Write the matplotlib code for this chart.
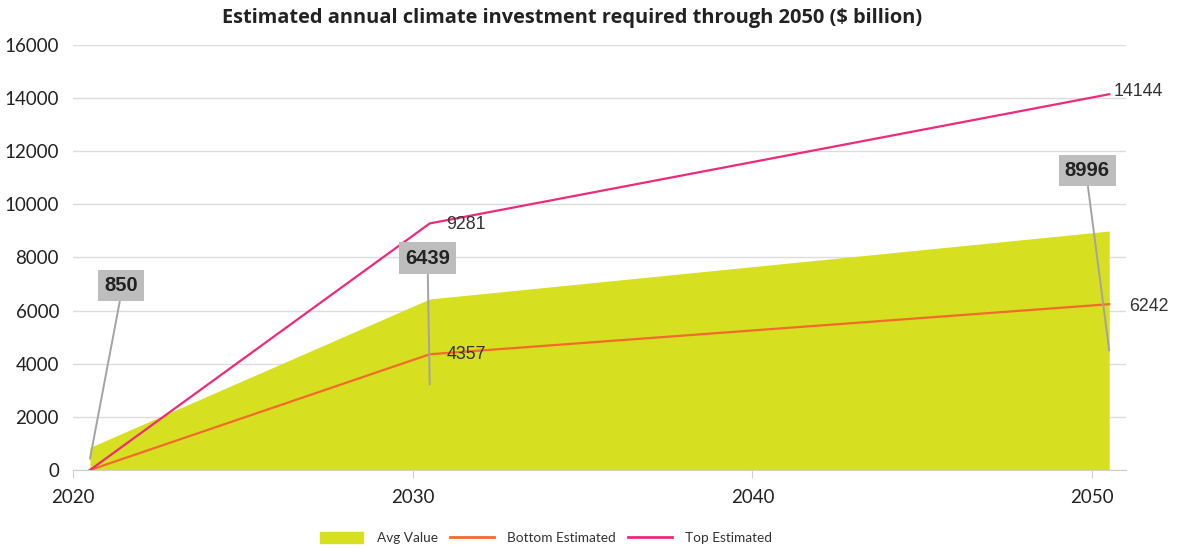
import matplotlib.pyplot as plt
from matplotlib.patches import Patch
from matplotlib.lines import Line2D

# investment estimates, $ billion per year
years = [2020, 2030, 2050]
avg_value = [850, 6439, 8996]
bottom_est = [0, 4357, 6242]
top_est = [0, 9281, 14144]

# values are plotted at mid-year
x = [y + 0.5 for y in years]

fill_col = '#D7DF21'
bottom_col = '#F26B2B'
top_col = '#EE2A7B'

fig = plt.figure(figsize=(11.83, 5.48), dpi=100)
ax = fig.add_axes([0.0617, 0.1423, 0.8903, 0.7757])

ax.fill_between(x, 0, avg_value, color=fill_col, lw=0, zorder=2)
ax.plot(x, bottom_est, color=bottom_col, lw=1.6, zorder=3)
ax.plot(x, top_est, color=top_col, lw=1.6, zorder=3)

ax.set_xlim(2020, 2051)
ax.set_ylim(0, 16000)
ax.set_xticks([2020, 2030, 2040, 2050])
ax.set_yticks(range(0, 16001, 2000))
ax.yaxis.grid(True, color='#dcdcdc', lw=1, zorder=0)
ax.set_axisbelow(True)
for s in ['left', 'right', 'top']:
    ax.spines[s].set_visible(False)
ax.spines['bottom'].set_color('#cfcfcf')
ax.tick_params(axis='y', length=0, pad=10, labelsize=13.5, labelcolor='#222222')
ax.tick_params(axis='x', length=6, color='#cfcfcf', pad=8, labelsize=13.5,
               labelcolor='#222222')
for lab in ax.get_xticklabels() + ax.get_yticklabels():
    lab.set_family('Lato')

# boxed labels for the average with leader lines into the area
box_pos = [(2021.41, 6930), (2030.44, 7980), (2049.85, 11260)]
for xi, v, (bx, by) in zip(x, avg_value, box_pos):
    ax.annotate(f'{v}', xy=(xi, v / 2), xytext=(bx, by),
                ha='center', va='center', fontsize=14.5, fontweight='bold',
                family='Liberation Sans', color='#222222', zorder=6,
                bbox=dict(boxstyle='square,pad=0.3', fc='#BDBDBD', ec='none'),
                arrowprops=dict(arrowstyle='-', color='#a3a3a3', lw=1.4,
                                shrinkA=0, shrinkB=0, relpos=(0.5, 0)))

# end-point labels for the estimate lines
offsets = {('b', 1): (12, 0), ('b', 2): (14, -2),
           ('t', 1): (12, -1), ('t', 2): (3, 2)}
for key, vals in (('b', bottom_est), ('t', top_est)):
    for i in (1, 2):
        ax.annotate(f'{vals[i]}', xy=(x[i], vals[i]), xytext=offsets[(key, i)],
                    textcoords='offset points', ha='left', va='center',
                    fontsize=12.8, family='Liberation Sans', color='#333333',
                    zorder=6)

fig.text(0.4835, 0.967, 'Estimated annual climate investment required through 2050 ($ billion)',
         ha='center', va='center', fontsize=14.4, fontweight='bold',
         family='Open Sans', color='#222222')

handles = [Patch(color=fill_col),
           Line2D([], [], color=bottom_col, lw=2),
           Line2D([], [], color=top_col, lw=2)]
leg = fig.legend(handles, ['Avg Value', 'Bottom Estimated', 'Top Estimated'],
                 loc='center', bbox_to_anchor=(0.4615, 0.018), ncol=3,
                 frameon=False, handlelength=3.2, handleheight=0.9,
                 columnspacing=0.9, handletextpad=1.0,
                 prop={'family': 'Lato', 'size': 9.8})
for t in leg.get_texts():
    t.set_color('#333333')

fig.savefig('out.png', dpi=100)
